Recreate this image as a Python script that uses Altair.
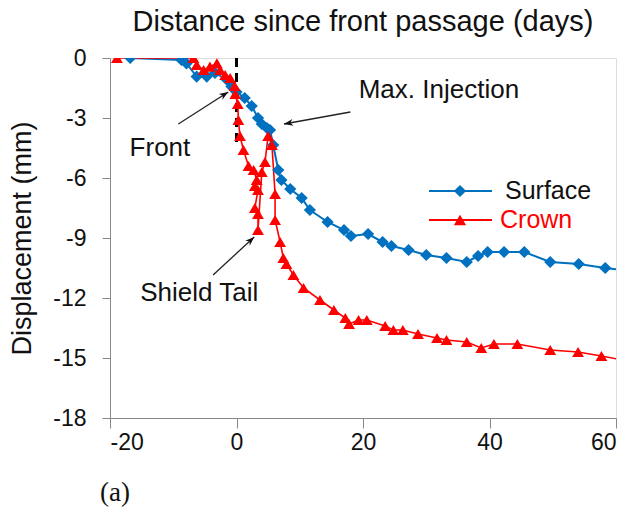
import math
import altair as alt
import pandas as pd

# Surface settlement (blue diamonds)
surface_x = [-16.8, -8.7, -7.9, -6.3, -4.7, -3.4, -1.5, -0.8, 0.0, 1.3, 2.4, 3.4,
             4.0, 4.8, 5.3, 5.8, 6.6, 7.1, 8.5, 10.3, 11.6, 14.4, 17.0, 18.1, 20.8,
             23.1, 24.5, 27.2, 30.0, 33.2, 36.4, 38.2, 39.7, 42.3, 45.5, 49.6, 54.1,
             58.3, 61.0]
surface_y = [0.0, -0.1, -0.27, -0.93, -0.93, -0.75, -1.1, -1.43, -1.7, -2.0, -2.4, -3.0,
             -3.3, -3.5, -3.6, -4.35, -5.6, -6.1, -6.55, -7.0, -7.6, -8.2, -8.6, -8.9, -8.8,
             -9.2, -9.4, -9.6, -9.85, -10.0, -10.2, -9.9, -9.7, -9.7, -9.7, -10.2, -10.3,
             -10.5, -10.6]

# Crown displacement (red triangles), in recording order
crown_x = [-18.9, -6.8, -6.3, -5.2, -4.2, -3.1, -2.6, -1.8, -1.0, -0.3, -0.2, 0.2,
           0.3, 0.55, 1.1, 1.9, 2.7, 3.2, 2.9, 3.4, 2.9, 3.4, 3.4, 4.0, 4.5, 5.0,
           5.6, 6.1, 6.1, 6.9, 7.4, 7.9, 9.0, 10.6, 13.2, 15.4, 17.2, 17.8, 19.3,
           20.6, 23.5, 24.8, 26.3, 28.7, 31.7, 33.2, 36.4, 38.7, 40.7, 44.4, 49.6,
           54.0, 57.7, 61.0]
crown_y = [0.0, 0.0, -0.35, -0.6, -0.43, -0.27, -0.6, -0.85, -1.0, -1.4, -1.8, -2.3,
           -3.1, -3.9, -4.6, -5.4, -5.6, -6.1, -6.4, -6.6, -7.5, -7.8, -8.6, -5.7, -5.2, -3.9,
           -4.35, -6.8, -8.1, -9.2, -10.0, -10.3, -10.85, -11.5, -12.1, -12.6, -13.0, -13.3, -13.1,
           -13.1, -13.4, -13.6, -13.6, -13.8, -14.0, -14.1, -14.2, -14.5, -14.3, -14.3, -14.6,
           -14.7, -14.9, -15.1]

# Annotations: label text, label position, arrow start and arrow tip
ann_text = ["Front", "Max. Injection", "Shield Tail"]
ann_tx = [-12.1, 32.0, -5.9]
ann_ty = [-4.5, -1.6, -11.75]
arrow_x0 = [-9.2, 18.0, -3.7]
arrow_y0 = [-3.3, -2.7, -10.85]
arrow_x1 = [-1.3, 7.5, 2.8]
arrow_y1 = [-1.7, -3.3, -8.95]

X_DOMAIN = [-20, 60]
Y_DOMAIN = [-18, 0]
W, H = 506, 360
BLUE = "#0070C0"
RED = "#FF0000"
FONT = "Liberation Sans"

surface = pd.DataFrame({"x": surface_x, "y": surface_y, "i": range(len(surface_x))})
crown = pd.DataFrame({"x": crown_x, "y": crown_y, "i": range(len(crown_x))})

# arrow heads rotated along the pixel direction of each arrow
px_x = W / (X_DOMAIN[1] - X_DOMAIN[0])
px_y = H / (Y_DOMAIN[1] - Y_DOMAIN[0])
angles = []
for x0, y0, x1, y1 in zip(arrow_x0, arrow_y0, arrow_x1, arrow_y1):
    dx = (x1 - x0) * px_x
    dy = -(y1 - y0) * px_y
    angles.append(math.degrees(math.atan2(dx, -dy)) % 360)

arrows = pd.DataFrame({"x0": arrow_x0, "y0": arrow_y0, "x1": arrow_x1,
                       "y1": arrow_y1, "angle": angles})
labels = pd.DataFrame({"text": ann_text, "x": ann_tx, "y": ann_ty})

xs = alt.Scale(domain=X_DOMAIN, nice=False)
ys = alt.Scale(domain=Y_DOMAIN, nice=False)

# plain hyphen-minus in tick labels
plain_label = "'' + datum.value"

x_axis = alt.Axis(values=[-20, 0, 20, 40, 60], title=None, grid=False,
                  labelFontSize=23, labelFont=FONT, labelColor="#111", labelExpr=plain_label,
                  tickSize=10, labelPadding=3, domainColor="#888", tickColor="#888")
y_axis = alt.Axis(values=[0, -3, -6, -9, -12, -15, -18], title="Displacement (mm)",
                  grid=False, labelFontSize=23, labelFont=FONT, labelColor="#111",
                  labelExpr=plain_label,
                  tickSize=8, labelPadding=16, domainColor="#888", tickColor="#888",
                  titleFontSize=27, titleFont=FONT, titleFontWeight="normal",
                  titleColor="#111", titleX=-88, titleY=H / 2, titleAngle=270,
                  titleAlign="center", titleBaseline="middle")

surf_line = alt.Chart(surface).mark_line(color=BLUE, strokeWidth=2, clip=True).encode(
    x=alt.X("x:Q", scale=xs, axis=x_axis),
    y=alt.Y("y:Q", scale=ys, axis=y_axis),
    order="i:Q",
)
surf_pts = alt.Chart(surface).mark_point(shape="diamond", filled=True, color=BLUE,
                                         size=150, opacity=1, clip=True).encode(
    x=alt.X("x:Q", scale=xs), y=alt.Y("y:Q", scale=ys))

crown_line = alt.Chart(crown).mark_line(color=RED, strokeWidth=1.6, clip=True).encode(
    x=alt.X("x:Q", scale=xs), y=alt.Y("y:Q", scale=ys), order="i:Q")
crown_pts = alt.Chart(crown).mark_point(shape="triangle-up", filled=True, color=RED,
                                        size=140, opacity=1, clip=True).encode(
    x=alt.X("x:Q", scale=xs), y=alt.Y("y:Q", scale=ys))

front_rule = alt.Chart(pd.DataFrame({"x": [0.0], "y": [0.0], "y2": [-4.5]})).mark_rule(
    color="black", strokeWidth=3, strokeDash=[9, 6]).encode(
    x=alt.X("x:Q", scale=xs), y=alt.Y("y:Q", scale=ys), y2="y2:Q")

arrow_lines = alt.Chart(arrows).mark_rule(color="#222", strokeWidth=1.3).encode(
    x=alt.X("x0:Q", scale=xs), y=alt.Y("y0:Q", scale=ys), x2="x1:Q", y2="y1:Q")
arrow_heads = alt.Chart(arrows).mark_point(
    shape="M0,0 L0.55,1.5 L0,1.05 L-0.55,1.5 Z", filled=True, color="#111",
    size=150, opacity=1).encode(
    x=alt.X("x1:Q", scale=xs), y=alt.Y("y1:Q", scale=ys), angle=alt.Angle("angle:Q", scale=None))

ann = alt.Chart(labels).mark_text(fontSize=26, font=FONT, color="#111").encode(
    x=alt.X("x:Q", scale=xs), y=alt.Y("y:Q", scale=ys), text="text:N")

# legend keys
legend_layers = []
for yy, col, shp, name, tcol, tx in [(133, BLUE, "diamond", "Surface", "#111", 395),
                                      (162, RED, "triangle-up", "Crown", RED, 390)]:
    legend_layers.append(alt.Chart(pd.DataFrame({"k": [name]})).mark_rule(
        color=col, strokeWidth=2).encode(x=alt.value(319), x2=alt.value(382), y=alt.value(yy)))
    legend_layers.append(alt.Chart(pd.DataFrame({"k": [name]})).mark_point(
        shape=shp, filled=True, color=col, size=150, opacity=1).encode(
        x=alt.value(350), y=alt.value(yy)))
    legend_layers.append(alt.Chart(pd.DataFrame({"k": [name]})).mark_text(
        align="left", baseline="middle", fontSize=25, font=FONT, color=tcol).encode(
        x=alt.value(tx), y=alt.value(yy), text="k:N"))

panel_tag = alt.Chart(pd.DataFrame({"t": ["(a)"]})).mark_text(
    align="left", baseline="middle", fontSize=27, font="Liberation Serif", color="#111").encode(
    x=alt.value(-10), y=alt.value(435), text="t:N")

chart = alt.layer(
    front_rule, surf_line, crown_line, surf_pts, crown_pts,
    arrow_lines, arrow_heads, ann, *legend_layers, panel_tag,
).properties(
    width=W, height=H,
    title=alt.TitleParams("Distance since front passage (days)", fontSize=29, font=FONT,
                          fontWeight="normal", color="#111", anchor="middle", offset=10),
    autosize=alt.AutoSizeParams(type="none"),
    padding={"left": 110, "top": 58, "right": 15, "bottom": 95},
).configure_view(stroke="#888", strokeWidth=1).configure(background="white")

chart.save("out.html", embed_options={"renderer": "svg", "actions": False})
